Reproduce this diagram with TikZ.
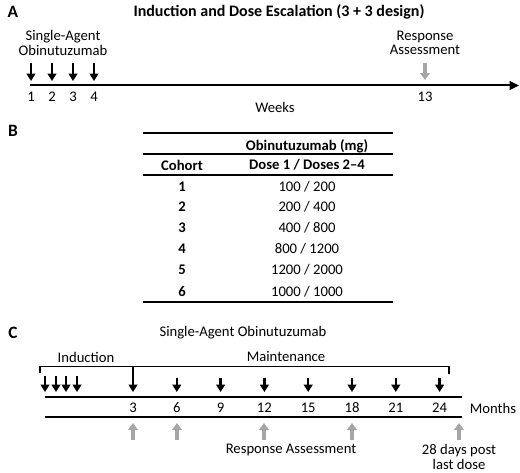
\documentclass[tikz,border=0pt]{standalone}
\usepackage{fontspec}
\setmainfont{Carlito}
\usepackage{xcolor}
\usetikzlibrary{arrows.meta}
\definecolor{assessgray}{RGB}{166,166,166}

\begin{document}
\begin{tikzpicture}[x=0.75pt,y=-0.75pt,font=\fontsize{11}{11}\selectfont,
  dose/.style={line width=1.8pt,-{Triangle[width=6.5pt,length=5.5pt]}},
  assess/.style={assessgray,line width=3pt,-{Triangle[width=7.2pt,length=5.2pt]}},
  panel/.style={font=\fontsize{13}{14}\selectfont\bfseries},
  bold/.style={font=\fontsize{11}{11}\selectfont\bfseries}]
  \useasboundingbox (0,0) rectangle (520,473);
  % A: induction and dose escalation
  \node[panel] (labA) at (13,12) {A};
  \node[font=\fontsize{12}{13}\selectfont\bfseries] (titleA) at (279,12)
    {Induction and Dose Escalation (3 + 3 design)};
  \node[align=center] (agentA) at (63,43) {Single-Agent\\Obinutuzumab};
  \node[align=center] (respA) at (425,43) {Response\\Assessment};
  \draw[line width=1.5pt,-{Triangle[width=6.5pt,length=7pt]}] (30,85.5) -- (519,85.5);
  \foreach \x/\w in {31/1,52/2,73/3,94/4} {
    \draw[dose] (\x,63) -- (\x,81);
    \node (wk\w) at (\x,97) {\w};
  }
  \draw[assess] (425,63) -- (425,80);
  \node (wk13) at (425,97) {13};
  \node (weeks) at (275,107) {Weeks};
  % B: cohort table
  \node[panel] (labB) at (13,131) {B};
  \draw[line width=2.2pt] (143,133) -- (393,133);
  \node[bold] (hdrB) at (307,146) {Obinutuzumab (mg)};
  \draw[line width=0.8pt] (143,154) -- (393,154);
  \node[bold] (cohort) at (182,165) {Cohort};
  \node[bold] (doses) at (307,165) {Dose 1 / Doses 2--4};
  \draw[line width=0.8pt] (143,175) -- (393,175);
  \foreach \c/\a/\b/\y in {1/100/200/187,2/200/400/207,3/400/800/228,
                           4/800/1200/249,5/1200/2000/270,6/1000/1000/292} {
    \node[bold] (coh\c) at (182,\y) {\c};
    \node (dose\c) at (307,\y) {\a\ / \b};
  }
  \draw[line width=2.2pt] (143,302) -- (393,302);
  % C: induction and maintenance
  \node[panel] (labC) at (13,333) {C};
  \node (agentC) at (243,333) {Single-Agent Obinutuzumab};
  \node (induct) at (86,357) {Induction};
  \node (maint) at (286,357) {Maintenance};
  \draw[line width=0.9pt] (40,373) -- (40,366.5) -- (449,366.5) -- (449,374);
  \foreach \x in {45,56,66,77}
    \draw[dose] (\x,376) -- (\x,392);
  \draw[dose] (133,366.5) -- (133,392);
  \foreach \m [evaluate=\m as \x using 133+(\m-3)*14.6] in {3,6,...,24} {
    \node (mo\m) at (\x,408) {\m};
  }
  \foreach \m [evaluate=\m as \x using 133+(\m-3)*14.6] in {6,9,...,24}
    \draw[dose] (\x,378) -- (\x,392);
  \draw[line width=1.5pt] (45,397) -- (462,397);
  \draw[line width=1.5pt] (45,416.5) -- (462,416.5);
  \node (months) at (493,408) {Months};
  \foreach \x in {133,177,264,352,459}
    \draw[assess] (\x,440) -- (\x,423);
  \node (respC) at (291,450) {Response Assessment};
  \node[align=center] (postC) at (459,457) {28 days post\\last dose};
\end{tikzpicture}
\end{document}
